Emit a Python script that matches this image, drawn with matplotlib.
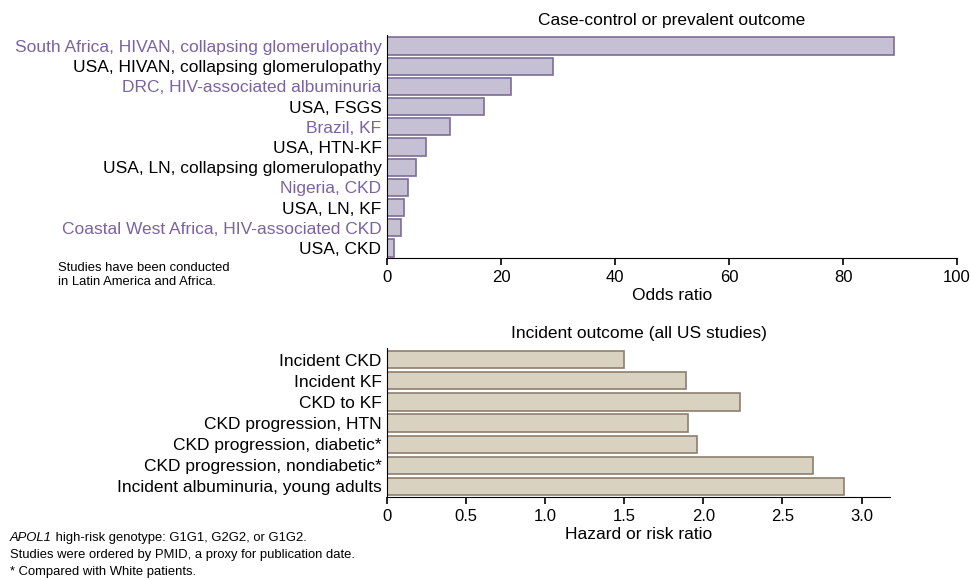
import matplotlib
matplotlib.use('Agg')
import matplotlib.pyplot as plt

plt.rcParams['font.family'] = ['Liberation Sans', 'DejaVu Sans']

top_labels = [
    'South Africa, HIVAN, collapsing glomerulopathy',
    'USA, HIVAN, collapsing glomerulopathy',
    'DRC, HIV-associated albuminuria',
    'USA, FSGS',
    'Brazil, KF',
    'USA, HTN-KF',
    'USA, LN, collapsing glomerulopathy',
    'Nigeria, CKD',
    'USA, LN, KF',
    'Coastal West Africa, HIV-associated CKD',
    'USA, CKD',
]
top_values = [88.9, 29.1, 21.7, 17.0, 11.0, 6.9, 5.1, 3.7, 2.9, 2.5, 1.2]
top_outside_us = [True, False, True, False, True, False, False, True, False, True, False]

bottom_labels = [
    'Incident CKD',
    'Incident KF',
    'CKD to KF',
    'CKD progression, HTN',
    'CKD progression, diabetic*',
    'CKD progression, nondiabetic*',
    'Incident albuminuria, young adults',
]
bottom_values = [1.50, 1.89, 2.23, 1.90, 1.96, 2.69, 2.89]

purple = '#7b63a3'
lab_size = 12.5
note_size = 9.4

fig = plt.figure(figsize=(9.71, 5.8), dpi=100)

ax1 = fig.add_axes([0.3986, 0.555, 0.587, 0.385])
y1 = range(len(top_values))
ax1.barh(y1, top_values, height=0.85, color='#c6c0d4', edgecolor='#7d6d95', linewidth=1.2)
ax1.set_yticks(list(y1))
ax1.set_yticklabels(top_labels, fontsize=lab_size)
for lab, out in zip(ax1.get_yticklabels(), top_outside_us):
    lab.set_color(purple if out else 'black')
ax1.set_ylim(len(top_values) - 0.5, -0.55)
ax1.set_xlim(0, 100)
ax1.set_xticks([0, 20, 40, 60, 80, 100])
ax1.tick_params(axis='y', length=0, pad=4)
ax1.tick_params(axis='x', labelsize=12, length=5, width=1.2)
ax1.spines[['top', 'right']].set_visible(False)
ax1.set_xlabel('Odds ratio', fontsize=lab_size, labelpad=2)
ax1.set_title('Case-control or prevalent outcome', fontsize=lab_size, pad=7)

ax2 = fig.add_axes([0.3986, 0.143, 0.518, 0.257])
y2 = range(len(bottom_values))
ax2.barh(y2, bottom_values, height=0.82, color='#d9d2c0', edgecolor='#8d7e70', linewidth=1.2)
ax2.set_yticks(list(y2))
ax2.set_yticklabels(bottom_labels, fontsize=lab_size)
ax2.set_ylim(len(bottom_values) - 0.5, -0.55)
ax2.set_xlim(0, 3.18)
ax2.set_xticks([0, 0.5, 1.0, 1.5, 2.0, 2.5, 3.0])
ax2.set_xticklabels(['0', '0.5', '1.0', '1.5', '2.0', '2.5', '3.0'])
ax2.tick_params(axis='y', length=0, pad=4)
ax2.tick_params(axis='x', labelsize=12, length=5, width=1.2)
ax2.spines[['top', 'right']].set_visible(False)
ax2.set_xlabel('Hazard or risk ratio', fontsize=lab_size, labelpad=2)
ax2.set_title('Incident outcome (all US studies)', fontsize=lab_size, pad=7)

fig.text(0.06, 0.548, 'Studies have been conducted\nin Latin America and Africa.',
         fontsize=note_size, va='top', linespacing=1.25)

apol = fig.text(0.01, 0.072, 'APOL1', fontsize=note_size, style='italic', va='center')
ax2.annotate(' high-risk genotype: G1G1, G2G2, or G1G2.', xy=(1, 0.5), xycoords=apol,
             va='center', fontsize=note_size, annotation_clip=False)
fig.text(0.01, 0.043, 'Studies were ordered by PMID, a proxy for publication date.',
         fontsize=note_size, va='center')
fig.text(0.01, 0.014, '* Compared with White patients.', fontsize=note_size, va='center')

fig.savefig('out.png', dpi=100)
